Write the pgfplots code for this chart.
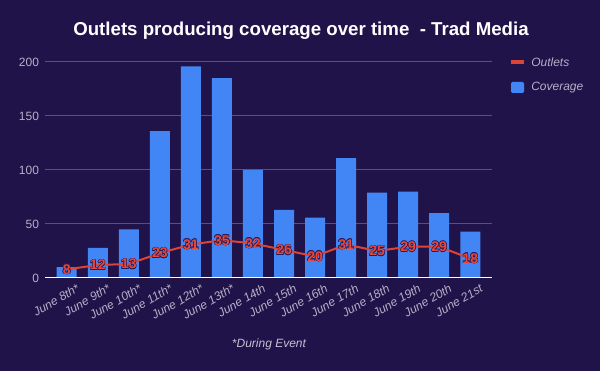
\documentclass[border=0pt]{standalone}
\usepackage{pgfplots}
\pgfplotsset{compat=1.18}
\usepackage{fontspec}
\setmainfont{Liberation Sans}
\definecolor{bg}{HTML}{20134A}
\definecolor{barc}{HTML}{4285F4}
\definecolor{linec}{HTML}{DB4437}
\definecolor{labc}{HTML}{E8473B}
\definecolor{gridc}{HTML}{5B4F80}
\definecolor{tickc}{HTML}{B4B0C8}
\definecolor{dk}{HTML}{2A1A55}
\newcommand\ol[1]{\setbox0\hbox{#1}%
\rlap{\color{dk}\raisebox{.45pt}{\copy0}}%
\rlap{\color{dk}\raisebox{-.45pt}{\copy0}}%
\rlap{\color{dk}\hspace{.45pt}\copy0}%
\rlap{\color{dk}\hspace{-.45pt}\copy0}%
\rlap{\color{dk}\hspace{.32pt}\raisebox{.32pt}{\copy0}}%
\rlap{\color{dk}\hspace{-.32pt}\raisebox{-.32pt}{\copy0}}%
\rlap{\color{dk}\hspace{.32pt}\raisebox{-.32pt}{\copy0}}%
\rlap{\color{dk}\hspace{-.32pt}\raisebox{.32pt}{\copy0}}%
{\color{labc}\copy0}}
\begin{document}
\begin{tikzpicture}
\useasboundingbox (0,0) rectangle (450pt,278.25pt);
\fill[bg] (0,0) rectangle (450pt,278.25pt);
\begin{axis}[
  at={(33.75pt,69.75pt)}, anchor=south west,
  scale only axis, width=335.25pt, height=162pt,
  xmin=-0.7, xmax=13.7, ymin=0, ymax=200,
  ytick={0,50,100,150,200},
  xtick={0,...,13},
  /pgf/number format/assume math mode=true,
  xticklabels={June 8th*,June 9th*,June 10th*,June 11th*,June 12th*,June 13th*,June 14th,June 15th,June 16th,June 17th,June 18th,June 19th,June 20th,June 21st},
  xticklabel style={rotate=30, anchor=north east, font=\itshape\fontsize{9}{10}\selectfont, text=tickc, inner sep=1pt, yshift=-6pt, xshift=5pt},
  yticklabel style={font=\fontsize{9}{10}\selectfont, text=tickc, xshift=-1pt},
  ymajorgrids, major grid style={gridc, line width=0.75pt},
  axis line style={draw=none}, tick style={draw=none},
  clip=false,
]
\addplot[ybar, bar width=15pt, fill=barc, draw=none] coordinates {
(0,10) (1,28) (2,45) (3,136) (4,196) (5,185) (6,100) (7,63) (8,56) (9,111) (10,79) (11,80) (12,60) (13,43)};
\draw[white, line width=0.75pt] (rel axis cs:0,0) -- (rel axis cs:1,0);
\addplot[linec, line width=1.5pt, mark=none,
  nodes near coords={\ol{\pgfmathprintnumber{\pgfplotspointmeta}}},
  every node near coord/.style={anchor=center, font=\bfseries\fontsize{10.5}{11}\selectfont}] coordinates {
(0,8) (1,12) (2,13) (3,23) (4,31) (5,35) (6,32) (7,26) (8,20) (9,31) (10,25) (11,29) (12,29) (13,18)};
\end{axis}
\node[text=white, font=\bfseries\fontsize{14}{16}\selectfont] at (225.75pt,255pt) {Outlets producing coverage over time\ \ - Trad Media};
\fill[linec] (383.25pt,230.5pt) rectangle (393pt,233pt);
\node[anchor=west, text=tickc, font=\itshape\fontsize{9}{10}\selectfont, inner sep=0pt] at (398.25pt,231.75pt) {Outlets};
\fill[barc, rounded corners=1pt] (383.25pt,216.75pt) rectangle (393pt,208.5pt);
\node[anchor=west, text=tickc, font=\itshape\fontsize{9}{10}\selectfont, inner sep=0pt] at (398.25pt,212.5pt) {Coverage};
\node[text=tickc!80!white, font=\itshape\fontsize{9}{10}\selectfont] at (201.75pt,20.25pt) {*During Event};
\end{tikzpicture}
\end{document}
